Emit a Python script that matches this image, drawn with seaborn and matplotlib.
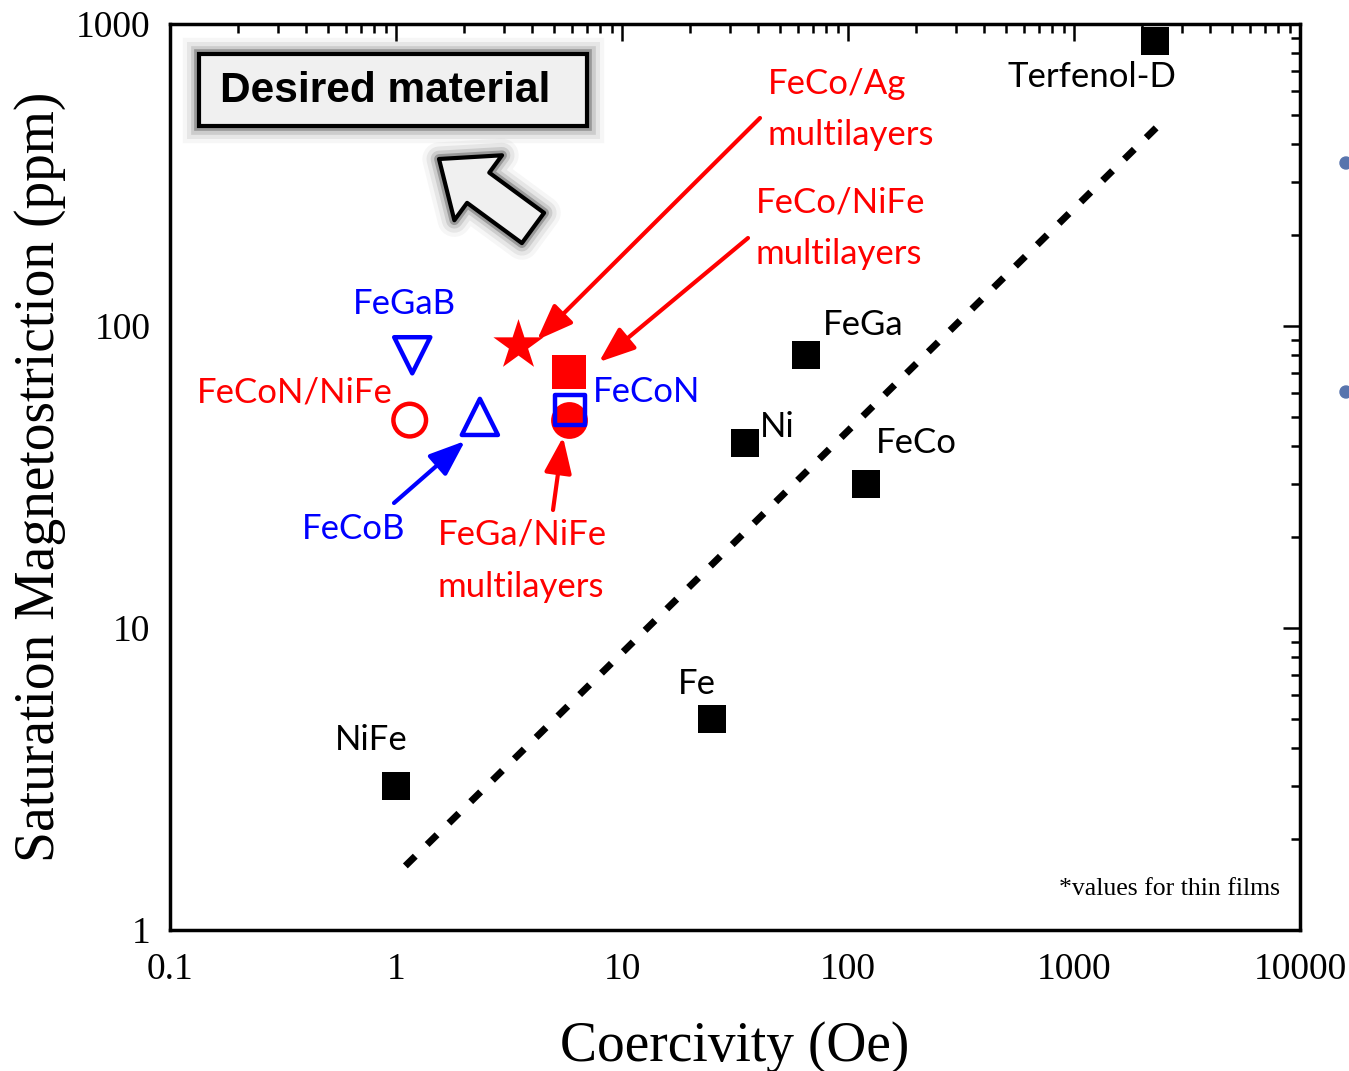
import numpy as np
import pandas as pd
import matplotlib
matplotlib.use("Agg")
import matplotlib.pyplot as plt
import seaborn as sns
from matplotlib import patheffects as pe
from matplotlib.ticker import FixedLocator, FixedFormatter, LogLocator, NullFormatter
from matplotlib.patches import Rectangle, Ellipse

# ---------------- data ----------------
bulk_names = ["NiFe", "Fe", "Ni", "FeGa", "FeCo", "Terfenol-D"]
bulk_coercivity = [1.0, 25.0, 35.0, 65.0, 120.0, 2280.0]
bulk_lambda = [3.0, 5.0, 41.0, 80.0, 30.0, 880.0]

red_names = ["FeCo/Ag multilayers", "FeCo/NiFe multilayers", "FeGa/NiFe multilayers", "FeCoN/NiFe"]
red_coercivity = [3.47, 5.85, 5.85, 1.15]
red_lambda = [86.5, 70.5, 48.8, 48.8]
red_markers = ["*", "s", "o", "o"]
red_filled = [True, True, True, False]

blue_names = ["FeGaB", "FeCoB", "FeCoN"]
blue_coercivity = [1.18, 2.35, 5.89]
blue_lambda = [80.0, 50.0, 52.7]
blue_markers = ["v", "^", "s"]

trend_coercivity = [1.10, 2330.0]
trend_lambda = [1.63, 456.0]

x_ticks = [0.1, 1, 10, 100, 1000, 10000]
x_tick_labels = ["0.1", "1", "10", "100", "1000", "10000"]
y_ticks = [1, 10, 100, 1000]
y_tick_labels = ["1", "10", "100", "1000"]

# ---------------- style ----------------
sns.set_style("white")
plt.rcParams["font.family"] = ["Liberation Serif", "DejaVu Serif"]
plt.rcParams["text.color"] = "black"
plt.rcParams["axes.labelcolor"] = "black"
plt.rcParams["xtick.color"] = "black"
plt.rcParams["ytick.color"] = "black"
ANN = ["Lato", "DejaVu Sans"]
RED = "#ff0000"
BLUE = "#0000ff"

W, H = 1349, 1071
fig = plt.figure(figsize=(W / 100, H / 100), dpi=100)
L, R, T, B = 170, 1300, 24, 930
ax = fig.add_axes([L / W, 1 - B / H, (R - L) / W, (B - T) / H])


def fr(px, py):
    return ((px - L) / (R - L), (B - py) / (B - T))


# trend line
sns.lineplot(x=trend_coercivity, y=trend_lambda, ax=ax, color="black", lw=5,
             linestyle=(0, (2.0, 2.4)), dash_capstyle="butt", zorder=2)

# bulk materials
sns.scatterplot(x=bulk_coercivity, y=bulk_lambda, marker="s", s=19.5 ** 2,
                color="black", linewidth=0, ax=ax, zorder=3)

# red (multilayers)
red_sizes = [38, 24.5, 26.5, 23.5]
for xv, yv, m, f, sz in zip(red_coercivity, red_lambda, red_markers, red_filled, red_sizes):
    if f:
        sns.scatterplot(x=[xv], y=[yv], marker=m, s=sz ** 2, color=RED,
                        linewidth=0, ax=ax, zorder=4)
    else:
        sns.scatterplot(x=[xv], y=[yv], marker=m, s=sz ** 2, color=RED,
                        facecolor="none", edgecolor=RED, linewidth=3.2, ax=ax, zorder=4)

# blue (alloys)
blue_sizes = [26, 26, 21]
for xv, yv, m, sz in zip(blue_coercivity, blue_lambda, blue_markers, blue_sizes):
    sns.scatterplot(x=[xv], y=[yv], marker=m, s=sz ** 2, color=BLUE,
                    facecolor="none", edgecolor=BLUE, linewidth=3.2, ax=ax, zorder=5)

# axes
ax.set_xscale("log")
ax.set_yscale("log")
ax.set_xlim(0.1, 10000)
ax.set_ylim(1, 1000)
ax.xaxis.set_major_locator(FixedLocator(x_ticks))
ax.xaxis.set_major_formatter(FixedFormatter(x_tick_labels))
ax.yaxis.set_major_locator(FixedLocator(y_ticks))
ax.yaxis.set_major_formatter(FixedFormatter(y_tick_labels))
ax.xaxis.set_minor_locator(LogLocator(base=10, subs=np.arange(2, 10), numticks=20))
ax.yaxis.set_minor_locator(LogLocator(base=10, subs=np.arange(2, 10), numticks=20))
ax.xaxis.set_minor_formatter(NullFormatter())
ax.yaxis.set_minor_formatter(NullFormatter())
ax.tick_params(which="both", direction="in", top=True, right=True, width=1.8,
               color="black", labelcolor="black", labelsize=27)
ax.tick_params(which="major", length=12)
ax.tick_params(which="minor", length=6.5)
ax.tick_params(axis="x", which="major", pad=16)
ax.tick_params(axis="y", which="major", pad=14)
for s in ax.spines.values():
    s.set_linewidth(2.5)
    s.set_color("black")
    s.set_visible(True)

ax.set_xlabel("Coercivity (Oe)", fontsize=40, labelpad=25, color="black")
ax.set_ylabel("Saturation Magnetostriction (ppm)", fontsize=40, labelpad=7, color="black")

# labels
def lab(px, py, txt, color="black", size=25):
    ax.text(*fr(px, py), txt, transform=ax.transAxes, ha="left", va="center",
            fontsize=size, color=color, family=ANN, zorder=6)

lab(1008, 77, "Terfenol-D")
lab(823, 325, "FeGa")
lab(760, 427, "Ni")
lab(876, 443, "FeCo")
lab(678, 684, "Fe")
lab(335, 740, "NiFe")

lab(768, 84, "FeCo/Ag", RED)
lab(768, 135, "multilayers", RED)
lab(756, 202, "FeCo/NiFe", RED)
lab(756, 254, "multilayers", RED)
lab(438, 535, "FeGa/NiFe", RED)
lab(438, 587, "multilayers", RED)
lab(197, 393, "FeCoN/NiFe", RED)

lab(353, 304, "FeGaB", BLUE)
lab(302, 529, "FeCoB", BLUE)
lab(593, 392, "FeCoN", BLUE)

ax.text(*fr(1280, 889), "*values for thin films", transform=ax.transAxes,
        ha="right", va="center", fontsize=18.5, color="black")

# arrows
def arr(tail, tip, color):
    ax.annotate("", xy=fr(*tip), xytext=fr(*tail), xycoords="axes fraction",
                textcoords="axes fraction",
                arrowprops=dict(arrowstyle="-|>,head_length=1.1,head_width=0.42",
                                mutation_scale=20, color=color, lw=3,
                                shrinkA=0, shrinkB=0), zorder=6)

arr((760, 118), (537, 340), RED)
arr((748, 238), (599, 362), RED)
arr((553, 510), (563, 437), RED)
arr((394, 503), (465, 441), BLUE)

# glow effect
glow = [pe.Stroke(linewidth=24, foreground="0.5", alpha=0.07),
        pe.Stroke(linewidth=18, foreground="0.45", alpha=0.12),
        pe.Stroke(linewidth=12, foreground="0.4", alpha=0.2),
        pe.Stroke(linewidth=7, foreground="0.3", alpha=0.4),
        pe.Normal()]

x0, y0 = fr(199, 126)
x1, y1 = fr(587, 54)
box = Rectangle((x0, y0), x1 - x0, y1 - y0, transform=ax.transAxes,
                facecolor="#f0f0f0", edgecolor="black", lw=3, zorder=7)
box.set_path_effects(glow)
ax.add_patch(box)
ax.text(*fr(385, 91), "Desired material", transform=ax.transAxes, ha="center",
        va="center", fontsize=30.5, fontweight="bold", color="black",
        family=["Liberation Sans", "DejaVu Sans"], zorder=8)

hollow = ax.annotate("", xy=fr(439, 159), xytext=fr(533, 228),
                     xycoords="axes fraction", textcoords="axes fraction",
                     arrowprops=dict(arrowstyle="simple,head_length=3.5,head_width=5.8,tail_width=2.7",
                                     mutation_scale=10, fc="#f0f0f0", ec="black",
                                     lw=3, shrinkA=0, shrinkB=0), zorder=7)
hollow.arrow_patch.set_path_effects(glow)

# slide bullets clipped at right edge
for py in (163, 392):
    fig.add_artist(Ellipse((1346 / W, 1 - py / H), 12 / W, 12 / H,
                           transform=fig.transFigure, color="#5874ad"))

fig.savefig("out.png", dpi=100)
